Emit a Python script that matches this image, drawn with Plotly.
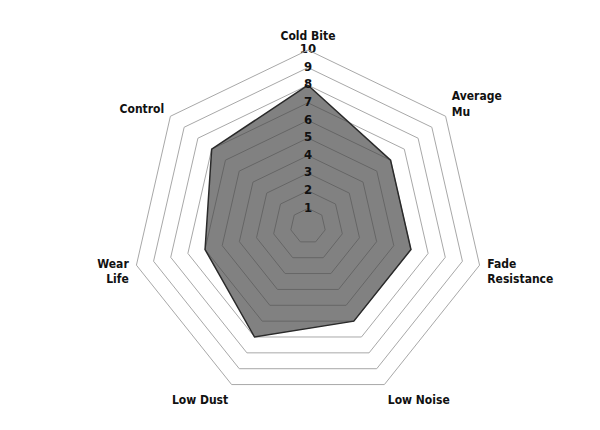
import plotly.graph_objects as go

categories = ['Cold Bite', 'Average<br>Mu', 'Fade<br>Resistance', 'Low Noise',
              'Low Dust', 'Wear<br>Life', 'Control']
scores = [8, 6, 6, 6, 7, 6, 7]
tick_values = [1, 2, 3, 4, 5, 6, 7, 8, 9, 10]
tick_labels = [str(v) for v in tick_values]

font_family = 'DejaVu Sans Condensed, Liberation Sans Narrow, Arial Narrow, sans-serif'

fig = go.Figure()

fig.add_trace(go.Scatterpolar(
    r=scores + scores[:1],
    theta=categories + categories[:1],
    mode='lines',
    fill='toself',
    fillcolor='rgba(70,70,70,0.68)',
    line=dict(color='#2a2a2a', width=1.5),
    hoverinfo='skip',
))

# scale numbers sit on the Cold Bite spoke
fig.add_trace(go.Scatterpolar(
    r=tick_values,
    theta=[categories[0]] * len(tick_values),
    mode='text',
    text=tick_labels,
    textfont=dict(family=font_family, size=13, color='#111111', weight='bold'),
    textposition='middle center',
    hoverinfo='skip',
))

fig.update_layout(
    width=600,
    height=430,
    margin=dict(l=80, r=80, t=42, b=36),
    paper_bgcolor='white',
    showlegend=False,
    font=dict(family=font_family, size=12, color='#111111', weight='bold'),
    polar=dict(
        gridshape='linear',
        bgcolor='white',
        radialaxis=dict(
            range=[0, 10],
            tickvals=tick_values,
            showticklabels=False,
            ticks='',
            showline=False,
            gridcolor='#a8a8a8',
            gridwidth=1,
        ),
        angularaxis=dict(
            rotation=90,
            direction='clockwise',
            showgrid=False,
            showline=True,
            linecolor='#a8a8a8',
            linewidth=1,
            ticks='outside',
            ticklen=5,
            tickcolor='rgba(255,255,255,0)',
            tickfont=dict(family=font_family, size=12, color='#111111', weight='bold'),
        ),
    ),
)

fig.write_html('out.html')
